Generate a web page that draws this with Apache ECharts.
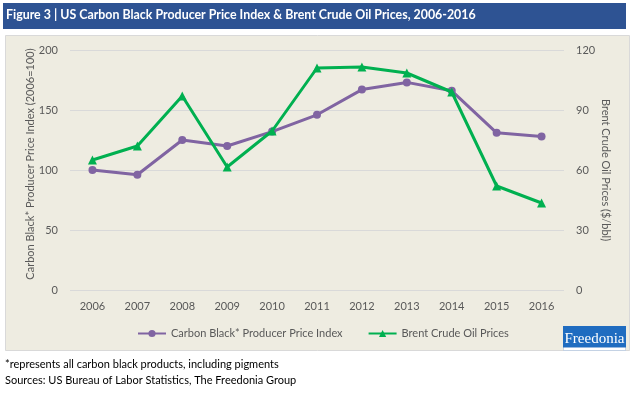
<!DOCTYPE html>
<html><head><meta charset="utf-8">
<script src="https://cdn.jsdelivr.net/npm/echarts@6/dist/echarts.min.js"></script>
<style>html,body{margin:0;padding:0;background:#fff}#c{width:634px;height:393px}</style>
</head><body><div id="c"></div>
<script>
const years = ['2006','2007','2008','2009','2010','2011','2012','2013','2014','2015','2016'];
const carbonBlackPPI = [100, 96, 125, 120, 132, 146, 167, 173, 166, 131, 128];
const brentPrices = [65, 72, 97, 61.5, 79.5, 111, 111.5, 108.5, 99, 52, 43.5];
const leftTicks = [0, 50, 100, 150, 200];
const rightTicks = [0, 30, 60, 90, 120];
const leftAxisName = 'Carbon Black* Producer Price Index (2006=100)';
const rightAxisName = 'Brent Crude Oil Prices ($/bbl)';

const FONT = 'Lato';
const chart = echarts.init(document.getElementById('c'), null, {renderer:'canvas'});
chart.setOption({
  backgroundColor: '#ffffff',
  animation: false,
  textStyle: {fontFamily: FONT},
  graphic: [
    {type:'rect', shape:{x:3,y:3,width:623,height:26}, style:{fill:'#2e5393'}, z:0},
    {type:'text', left:6, top:9, style:{text:'Figure 3 | US Carbon Black Producer Price Index & Brent Crude Oil Prices, 2006-2016', fill:'#ffffff', font:'bold 12.4px '+FONT}, z:1},
    {type:'rect', shape:{x:5.5,y:35.5,width:624,height:315}, style:{fill:'#eeece1', stroke:'#d9d9d9', lineWidth:1}, z:-10},
    {type:'text', x:30, y:164, rotation:Math.PI/2, style:{text:leftAxisName, fill:'#595959', font:'11px '+FONT, align:'center', verticalAlign:'middle'}},
    {type:'text', x:606, y:170, rotation:-Math.PI/2, style:{text:rightAxisName, fill:'#595959', font:'11px '+FONT, align:'center', verticalAlign:'middle'}},
    {type:'rect', shape:{x:563,y:326,width:63,height:22}, style:{fill:'#1f6cc0'}, z:1},
    {type:'rect', shape:{x:563.5,y:347.5,width:62,height:3}, style:{fill:'#ffffff', stroke:'#9db8dc', lineWidth:0.5}, z:1},
    {type:'text', x:594.5, y:339, style:{text:'Freedonia', fill:'#ffffff', font:'15px "Liberation Serif"', align:'center', verticalAlign:'middle'}, z:2},
    {type:'text', left:5, top:359, style:{text:'*represents all carbon black products, including pigments', fill:'#000000', font:'11px '+FONT}},
    {type:'text', left:5, top:375, style:{text:'Sources: US Bureau of Labor Statistics, The Freedonia Group', fill:'#000000', font:'11px '+FONT}}
  ],
  grid: {left:70, right:70, top:50, bottom:103},
  legend: {
    left: 137, top: 328, padding: 0, itemWidth: 28, itemHeight: 9, itemGap: 25,
    textStyle: {color:'#595959', fontSize:11, fontFamily:FONT},
    data: ['Carbon Black* Producer Price Index', 'Brent Crude Oil Prices']
  },
  xAxis: {
    type:'category', data: years, boundaryGap: true,
    axisLine:{show:false}, axisTick:{show:false},
    axisLabel:{color:'#595959', fontSize:11, margin:11, fontFamily:FONT}
  },
  yAxis: [
    {type:'value', min:leftTicks[0], max:leftTicks[leftTicks.length-1], interval:50,
     axisLabel:{color:'#595959', fontSize:11, margin:12, fontFamily:FONT},
     splitLine:{lineStyle:{color:'#d9d9d9', width:1}}, axisLine:{show:false}, axisTick:{show:false}},
    {type:'value', min:rightTicks[0], max:rightTicks[rightTicks.length-1], interval:30, position:'right',
     axisLabel:{color:'#595959', fontSize:11, margin:12, fontFamily:FONT},
     splitLine:{show:false}, axisLine:{show:false}, axisTick:{show:false}}
  ],
  series: [
    {name:'Carbon Black* Producer Price Index', type:'line', yAxisIndex:0, data:carbonBlackPPI,
     symbol:'circle', symbolSize:8, lineStyle:{color:'#8064a2', width:3}, itemStyle:{color:'#8064a2'}, z:3},
    {name:'Brent Crude Oil Prices', type:'line', yAxisIndex:1, data:brentPrices,
     symbol:'triangle', symbolSize:9, lineStyle:{color:'#00b050', width:3}, itemStyle:{color:'#00b050'}, z:4}
  ]
});
</script></body></html>
